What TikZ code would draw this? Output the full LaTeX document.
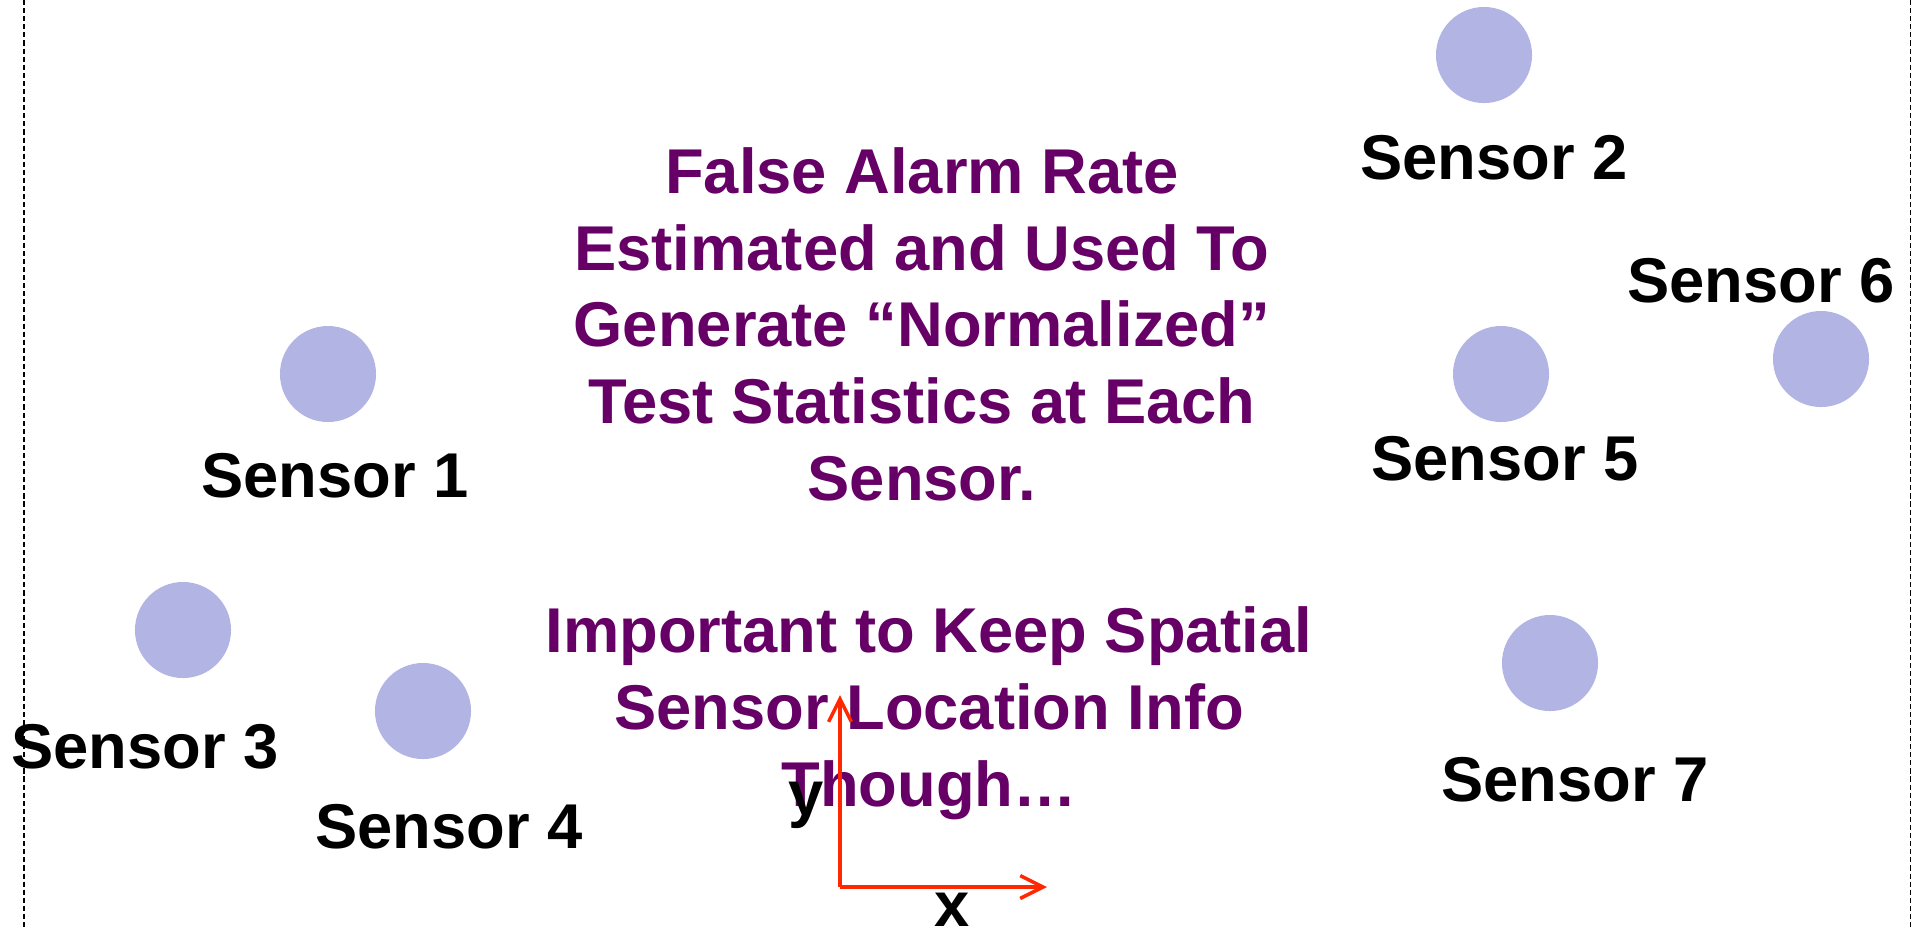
\documentclass[tikz,border=0pt]{standalone}
\usepackage{fontspec}
\setmainfont{Liberation Sans}
\usetikzlibrary{arrows.meta}
\definecolor{dotfill}{RGB}{178,180,228}
\definecolor{msgpurple}{RGB}{102,0,102}
\definecolor{axisred}{RGB}{255,40,0}
\tikzset{
  sensordot/.style={circle, fill=dotfill, draw=none, minimum size=0.96cm, inner sep=0pt},
  sensorlabel/.style={anchor=base, inner sep=0pt, font=\fontsize{18}{21.8}\selectfont\bfseries, text=black},
  msgtext/.style={anchor=base, inner sep=0pt, align=center, font=\fontsize{18}{21.8}\selectfont\bfseries, text=msgpurple},
  axisline/.style={draw=axisred, line width=1pt, -{Straight Barb[length=6.5pt,width=6.5pt]}},
  axislabel/.style={anchor=base, inner sep=0pt, font=\fontsize{18}{21.8}\selectfont\bfseries, text=black}
}
\begin{document}
\begin{tikzpicture}[x=0.01cm, y=-0.01cm]
\useasboundingbox (0,0) rectangle (1912,929);
% side dashed lines
\coordinate (ltop) at (24,0);
\coordinate (lbot) at (24,929);
\coordinate (rtop) at (1910.5,0);
\coordinate (rbot) at (1910.5,929);
\draw[draw=black, line width=0.55pt, dash pattern=on 1.45pt off 0.85pt] (ltop) -- (lbot);
\draw[draw=black, line width=0.3pt, dash pattern=on 1.45pt off 0.85pt] (rtop) -- (rbot);
% sensors
\node[sensordot] (s1) at (328,374) {};
\node[sensordot] (s2) at (1484,55) {};
\node[sensordot] (s3) at (183,630) {};
\node[sensordot] (s4) at (423,711) {};
\node[sensordot] (s5) at (1501,374) {};
\node[sensordot] (s6) at (1821,359) {};
\node[sensordot] (s7) at (1550,663) {};
\node[sensorlabel] (l1) at (335,497) {Sensor 1};
\node[sensorlabel] (l2) at (1494,179) {Sensor 2};
\node[sensorlabel] (l3) at (145,768) {Sensor 3};
\node[sensorlabel] (l4) at (449,848) {Sensor 4};
\node[sensorlabel] (l5) at (1505,480) {Sensor 5};
\node[sensorlabel] (l6) at (1761,302) {Sensor 6};
\node[sensorlabel] (l7) at (1575,801) {Sensor 7};
% messages (base anchor = baseline of the last line)
\node[msgtext] (m1) at (922,500) {False Alarm Rate\\Estimated and Used To\\Generate “Normalized”\\Test Statistics at Each\\Sensor.};
\node[msgtext] (m2) at (929,806) {Important to Keep Spatial\\Sensor Location Info\\Though…};
% axes
\coordinate (origin) at (840,887);
\coordinate (xtip) at (1047,887);
\coordinate (ytip) at (840,695);
\draw[axisline] (origin) -- (xtip);
\draw[axisline] (origin) -- (ytip);
\node[axislabel] (ylab) at (806,815) {y};
\node[axislabel] (xlab) at (952,926) {x};
\end{tikzpicture}
\end{document}
